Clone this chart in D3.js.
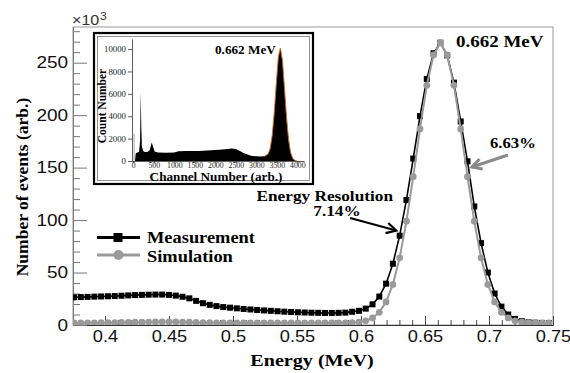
<!DOCTYPE html>
<html>
<head>
<meta charset="utf-8">
<script src="https://cdn.jsdelivr.net/npm/d3@7"></script>
<style>
  body { margin: 0; background: #fff; }
  svg { display: block; }
</style>
</head>
<body>
<svg id="chart" width="570" height="373"></svg>
<script>
// main spectrum: energy in MeV, counts in units of 10^3
const energy = [
  0.3758, 0.3811, 0.3864, 0.3917, 0.3970, 0.4023, 0.4076, 0.4129, 0.4182, 0.4235,
  0.4288, 0.4341, 0.4394, 0.4447, 0.4500, 0.4553, 0.4606, 0.4659, 0.4712, 0.4765,
  0.4818, 0.4871, 0.4924, 0.4977, 0.5030, 0.5083, 0.5136, 0.5189, 0.5242, 0.5295,
  0.5348, 0.5401, 0.5454, 0.5507, 0.5560, 0.5613, 0.5666, 0.5719, 0.5772, 0.5825,
  0.5878, 0.5931, 0.5984, 0.6037, 0.6090, 0.6143, 0.6196, 0.6249, 0.6302, 0.6355,
  0.6408, 0.6461, 0.6514, 0.6567, 0.6620, 0.6673, 0.6726, 0.6779, 0.6832, 0.6885,
  0.6938, 0.6991, 0.7044, 0.7097, 0.7150, 0.7203, 0.7256, 0.7309, 0.7362, 0.7415,
  0.7468
];
const measurement = [
  26.4, 26.6, 26.8, 27.0, 27.2, 27.4, 27.6, 27.9, 28.2, 28.5,
  28.7, 28.9, 29.0, 29.0, 28.7, 28.0, 26.9, 25.4, 23.0, 20.8,
  19.2, 18.0, 17.1, 16.5, 15.9, 15.3, 14.8, 14.3, 13.9, 13.5,
  13.1, 12.7, 12.4, 12.1, 11.9, 11.7, 11.6, 11.5, 11.5, 11.6,
  11.8, 12.6, 13.5, 15.6, 19.7, 27.1, 39.4, 58.4, 85.1, 119.2,
  158.6, 199.0, 234.5, 259.0, 269.0, 257.0, 231.0, 194.0, 156.0, 113.0,
  78.0, 50.0, 30.0, 17.5, 10.0, 5.8, 3.6, 2.6, 2.2, 2.0,
  1.9
];
const simulation = [
  2.0, 2.0, 2.1, 2.1, 2.2, 2.2, 2.3, 2.4, 2.5, 2.6,
  2.7, 2.8, 2.9, 3.0, 3.0, 2.9, 2.8, 2.6, 2.4, 2.3,
  2.2, 2.1, 2.0, 2.0, 2.0, 1.9, 1.9, 1.9, 1.9, 1.9,
  1.9, 1.9, 1.9, 1.9, 1.9, 1.9, 1.9, 2.0, 2.0, 2.0,
  2.1, 2.3, 2.8, 4.0, 6.7, 12.1, 22.0, 38.7, 64.0, 98.9,
  141.4, 186.9, 228.4, 257.4, 269.0, 257.4, 228.4, 186.9, 141.4, 98.9,
  64.0, 38.7, 22.0, 12.1, 6.7, 4.0, 2.8, 2.3, 2.1, 2.0,
  2.0
];
const xTicks = [0.4, 0.45, 0.5, 0.55, 0.6, 0.65, 0.7, 0.75];
const yTicks = [0, 50, 100, 150, 200, 250];

// inset: raw channel spectrum
const channel = [40, 60, 100, 140, 165, 180, 195, 210, 240, 280, 340, 400, 430, 450, 480,
  520, 600, 800, 1000, 1100, 1300, 1600, 1900, 2100, 2300, 2400, 2500, 2600, 2700, 2800,
  2900, 3000, 3100, 3200, 3287, 3337, 3387, 3437, 3487, 3537, 3587, 3637, 3687, 3737, 3787,
  3837, 3887, 3937, 3990];
const channelCount = [0, 700, 750, 800, 1800, 6200, 3000, 1300, 900, 800, 800, 950, 1400, 1650, 1300,
  850, 750, 730, 750, 880, 900, 900, 950, 1000, 1080, 1120, 1080, 900, 700, 550,
  450, 420, 400, 420, 630, 1100, 2260, 4280, 6900, 9300, 10100, 9000, 6500, 3900, 1900,
  750, 250, 60, 0];
const spikeChannel = [20, 20];
const spikeCount = [0, 2450];
const insetXTicks = [0, 500, 1000, 1500, 2000, 2500, 3000, 3500, 4000];
const insetYTicks = [0, 2000, 4000, 6000, 8000, 10000];

const svg = d3.select('#chart');
const S = 1.15; // the original figure is stretched sideways
const serif = '"Liberation Serif", "Times New Roman", serif';
const sans = '"Liberation Sans", Arial, sans-serif';

const x = d3.scaleLinear().domain([0.375, 0.75]).range([73, 553]);
const y = d3.scaleLinear().domain([0, 284]).range([325, 27]);

function label(g, px, py, txt, size, opts) {
  opts = opts || {};
  return g.append('text')
    .attr('transform', `translate(${px},${py}) scale(${opts.k || S},1)`)
    .attr('font-family', opts.font || serif)
    .attr('font-weight', opts.weight || 'bold')
    .attr('font-size', size)
    .attr('text-anchor', opts.anchor || 'start')
    .attr('fill', opts.color || '#000')
    .text(txt);
}

function arrow(g, x1, y1, x2, y2, color, w) {
  const a = Math.atan2(y2 - y1, x2 - x1), len = 11, sp = 0.5;
  g.append('line').attr('x1', x1).attr('y1', y1).attr('x2', x2).attr('y2', y2)
    .attr('stroke', color).attr('stroke-width', w);
  g.append('path')
    .attr('d', `M${x2 - len * Math.cos(a - sp)},${y2 - len * Math.sin(a - sp)}L${x2},${y2}L${x2 - len * Math.cos(a + sp)},${y2 - len * Math.sin(a + sp)}`)
    .attr('fill', 'none').attr('stroke', color).attr('stroke-width', w)
    .attr('stroke-linejoin', 'miter');
}

// ---- frame and axes
svg.append('rect')
  .attr('x', x(0.375)).attr('y', y(284))
  .attr('width', x(0.75) - x(0.375)).attr('height', y(0) - y(284))
  .attr('fill', 'none').attr('stroke', '#999').attr('stroke-width', 1);

const xMinor = d3.range(38, 76).filter(i => i % 5 !== 0).map(i => i / 100);
const yMinor = d3.range(10, 284, 10).filter(v => v % 50 !== 0);

const gx = svg.append('g').attr('transform', `translate(0,${y(0)})`)
  .call(d3.axisBottom(x).tickValues(xTicks).tickFormat(d => String(d))
    .tickSizeInner(-9).tickSizeOuter(0).tickPadding(5))
  .attr('font-family', sans).attr('font-size', 16.3);
gx.select('.domain').attr('stroke', '#333');
gx.selectAll('line').attr('stroke', '#444');
gx.selectAll('text').attr('transform', 'scale(1.12,1)').attr('fill', '#111');
svg.append('g').attr('transform', `translate(0,${y(0)})`)
  .call(d3.axisBottom(x).tickValues(xMinor).tickFormat('').tickSizeInner(-5).tickSizeOuter(0))
  .call(g => g.select('.domain').remove())
  .selectAll('line').attr('stroke', '#444');

const gy = svg.append('g').attr('transform', `translate(${x(0.375)},0)`)
  .call(d3.axisLeft(y).tickValues(yTicks).tickSizeInner(-14).tickSizeOuter(0).tickPadding(4.3))
  .attr('font-family', sans).attr('font-size', 16.5);
gy.select('.domain').attr('stroke', '#777');
gy.selectAll('line').attr('stroke', '#777');
gy.selectAll('text').attr('transform', `scale(${S},1)`).attr('fill', '#111');
svg.append('g').attr('transform', `translate(${x(0.375)},0)`)
  .call(d3.axisLeft(y).tickValues(yMinor).tickFormat('').tickSizeInner(-7).tickSizeOuter(0))
  .call(g => g.select('.domain').remove())
  .selectAll('line').attr('stroke', '#777');

label(svg, 72, 25, '×10', 14, { font: sans, weight: 'normal', color: '#333' });
label(svg, 100, 20, '3', 10.5, { font: sans, weight: 'normal', color: '#333' });

label(svg, 312, 366, 'Energy (MeV)', 17.5, { anchor: 'middle' });
svg.append('text')
  .attr('transform', 'translate(28,187) rotate(-90)')
  .attr('font-family', serif).attr('font-weight', 'bold').attr('font-size', 17.5)
  .attr('text-anchor', 'middle')
  .text('Number of events (arb.)');

// ---- data
svg.append('clipPath').attr('id', 'plot-clip')
  .append('rect').attr('x', x(0.375)).attr('y', y(284))
  .attr('width', x(0.75) - x(0.375)).attr('height', y(0) - y(284));
const plot = svg.append('g').attr('clip-path', 'url(#plot-clip)');

const line = d3.line().x((d, i) => x(energy[i])).y(d => y(d));

plot.append('path').datum(measurement)
  .attr('d', line).attr('fill', 'none').attr('stroke', '#000').attr('stroke-width', 1.6);
plot.selectAll('.meas').data(measurement).enter().append('rect')
  .attr('class', 'meas')
  .attr('x', (d, i) => x(energy[i]) - 3).attr('y', d => y(d) - 3)
  .attr('width', 6).attr('height', 6).attr('fill', '#000');

const grey = '#9a9a9a';
plot.append('path').datum(simulation)
  .attr('d', line).attr('fill', 'none').attr('stroke', grey).attr('stroke-width', 2);
plot.selectAll('.sim').data(simulation).enter().append('circle')
  .attr('class', 'sim')
  .attr('cx', (d, i) => x(energy[i])).attr('cy', d => y(d))
  .attr('r', 3.4).attr('fill', grey);

// ---- legend
const legend = svg.append('g');
legend.append('line').attr('x1', 97).attr('x2', 140).attr('y1', 237.5).attr('y2', 237.5)
  .attr('stroke', '#000').attr('stroke-width', 3);
legend.append('rect').attr('x', 113.5).attr('y', 233).attr('width', 9).attr('height', 9).attr('fill', '#000');
label(legend, 147, 243, 'Measurement', 16);
legend.append('line').attr('x1', 97).attr('x2', 140).attr('y1', 255).attr('y2', 255)
  .attr('stroke', grey).attr('stroke-width', 3);
legend.append('circle').attr('cx', 118.5).attr('cy', 255).attr('r', 5).attr('fill', grey);
label(legend, 147, 262, 'Simulation', 16);

// ---- annotations
label(svg, 456, 47, '0.662 MeV', 16.5);
label(svg, 393, 201, 'Energy Resolution', 15, { anchor: 'end' });
label(svg, 337, 216, '7.14%', 15, { anchor: 'middle' });
arrow(svg, x(0.5915), y(102), x(0.6275), y(90), '#000', 2.2);
label(svg, 490, 148, '6.63%', 14.5);
arrow(svg, x(0.7148), y(162), x(0.6867), y(150.6), '#8a8a8a', 3);

// ---- inset
const inset = svg.append('g');
inset.append('rect').attr('x', 94).attr('y', 33).attr('width', 219).attr('height', 151)
  .attr('fill', '#fff').attr('stroke', '#000').attr('stroke-width', 2.2);
inset.append('rect').attr('x', 97.5).attr('y', 36.5).attr('width', 212).attr('height', 144)
  .attr('fill', 'none').attr('stroke', '#666').attr('stroke-width', 0.7);

const ix = d3.scaleLinear().domain([-32, 4163]).range([132, 304]);
const iy = d3.scaleLinear().domain([0, 10900]).range([161, 39]);

inset.append('path').datum(spikeCount)
  .attr('d', d3.line().x((d, i) => ix(spikeChannel[i])).y(d => iy(d)))
  .attr('stroke', '#aaa').attr('stroke-width', 1).attr('fill', 'none');

inset.append('path').datum(channelCount)
  .attr('d', d3.area().x((d, i) => ix(channel[i])).y0(iy(0)).y1(d => iy(d)))
  .attr('fill', '#000');

const fitIdx = d3.range(channel.length).filter(i => channel[i] >= 3200);
inset.append('path').datum(fitIdx)
  .attr('d', d3.line().x(i => ix(channel[i])).y(i => iy(channelCount[i])))
  .attr('fill', 'none').attr('stroke', '#d2691e').attr('stroke-width', 0.9);

const igx = inset.append('g').attr('transform', `translate(0,${iy(0)})`)
  .call(d3.axisBottom(ix).tickValues(insetXTicks).tickFormat(d3.format('d'))
    .tickSizeInner(2.5).tickSizeOuter(0).tickPadding(0))
  .attr('font-family', serif).attr('font-size', 7.8);
igx.selectAll('text').attr('fill', '#222').attr('dy', '0.62em');
igx.selectAll('line, .domain').attr('stroke', '#333').attr('stroke-width', 0.8);

const igy = inset.append('g').attr('transform', `translate(${ix(-32)},0)`)
  .call(d3.axisLeft(iy).tickValues(insetYTicks).tickFormat(d3.format('d'))
    .tickSizeInner(4).tickSizeOuter(0).tickPadding(1.5))
  .attr('font-family', serif).attr('font-size', 8);
igy.selectAll('text').attr('transform', 'scale(1.1,1)').attr('fill', '#222');
igy.selectAll('line, .domain').attr('stroke', '#333').attr('stroke-width', 0.8);

label(inset, 216, 180.5, 'Channel Number (arb.)', 12, { anchor: 'middle', k: 1.1 });
inset.append('text')
  .attr('transform', 'translate(106,106) rotate(-90)')
  .attr('font-family', serif).attr('font-weight', 'bold').attr('font-size', 11.5)
  .attr('text-anchor', 'middle')
  .text('Count Number');
label(inset, 215, 54, '0.662 MeV', 11.5, { k: 1.15 });
</script>
</body>
</html>
